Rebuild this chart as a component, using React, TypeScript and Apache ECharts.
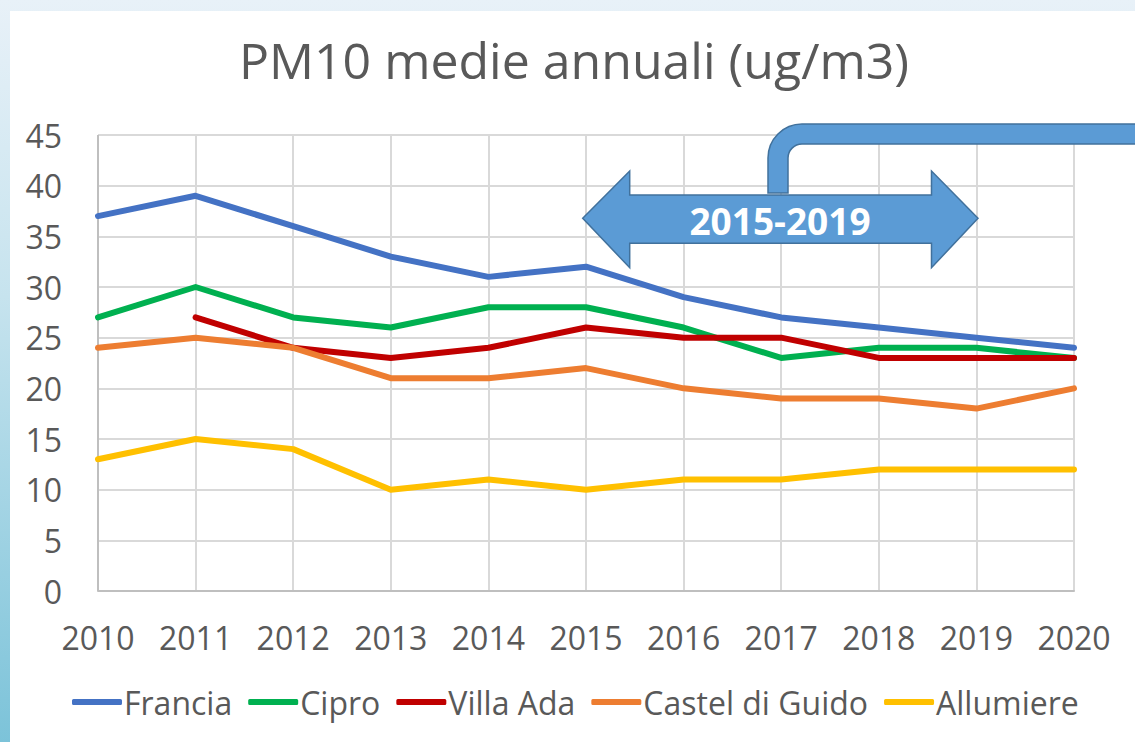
import React, { useEffect, useRef } from "react";
import * as echarts from "echarts";

const years = ["2010", "2011", "2012", "2013", "2014", "2015", "2016", "2017", "2018", "2019", "2020"];
const francia = [37, 39, 36, 33, 31, 32, 29, 27, 26, 25, 24];
const cipro = [27, 30, 27, 26, 28, 28, 26, 23, 24, 24, 23];
const villaAda = [null, 27, 24, 23, 24, 26, 25, 25, 23, 23, 23];
const castelDiGuido = [24, 25, 24, 21, 21, 22, 20, 19, 19, 18, 20];
const allumiere = [13, 15, 14, 10, 11, 10, 11, 11, 12, 12, 12];

const seriesNames = ["Francia", "Cipro", "Villa Ada", "Castel di Guido", "Allumiere"];
const seriesData = [francia, cipro, villaAda, castelDiGuido, allumiere];
const seriesColors = ["#4472C4", "#00B050", "#C00000", "#ED7D31", "#FFC000"];

const titleText = "PM10 medie annuali (ug/m3)";
const arrowLabel = "2015-2019";

const FONT = "'Open Sans', 'Noto Sans', sans-serif";

const doubleArrowD =
  "M582.7,218.3 L629.7,171 L629.7,195 L931.5,195 L931.5,171 L978,218.3 L931.5,267.7 L931.5,243.3 L629.7,243.3 L629.7,267.7 Z";
const connectorD =
  "M768,193 L768,158 A34,34 0 0 1 802,124 L1140,124 L1140,144 L802,144 A14,14 0 0 0 788,158 L788,193 Z";

let registered = false;
function registerShapes() {
  if (registered) return;
  echarts.graphic.registerShape("dblArrow", echarts.graphic.extendPath(doubleArrowD, {}));
  echarts.graphic.registerShape("connector", echarts.graphic.extendPath(connectorD, {}));
  registered = true;
}

export default function App() {
  const ref = useRef<HTMLDivElement>(null);

  useEffect(() => {
    document.body.style.margin = "0";
    registerShapes();
    const chart = echarts.init(ref.current!, null, { renderer: "svg" });
    chart.setOption({
      animation: false,
      title: {
        text: titleText,
        left: 569,
        textAlign: "center",
        top: 30,
        textStyle: { fontFamily: FONT, fontSize: 50, fontWeight: "normal", color: "#595959" },
      },
      legend: {
        data: seriesNames,
        top: 686,
        left: 72,
        padding: 0,
        icon: "roundRect",
        itemWidth: 50,
        itemHeight: 6,
        itemGap: 16,
        textStyle: { fontFamily: FONT, fontSize: 32, color: "#595959", padding: [0, 0, 0, -3] },
      },
      grid: { left: 98, right: 61, top: 135, bottom: 151, containLabel: false },
      xAxis: {
        type: "category",
        data: years,
        boundaryGap: false,
        axisLine: { show: true, lineStyle: { color: "#bfbfbf", width: 2 } },
        axisTick: { show: false },
        splitLine: { show: true, lineStyle: { color: "#d9d9d9", width: 2 } },
        axisLabel: { fontFamily: FONT, fontSize: 32, color: "#595959", margin: 30 },
      },
      yAxis: {
        type: "value",
        min: 0,
        max: 45,
        interval: 5,
        axisLine: { show: false },
        axisTick: { show: false },
        splitLine: { show: true, lineStyle: { color: "#d9d9d9", width: 2 } },
        axisLabel: { fontFamily: FONT, fontSize: 32, color: "#595959", margin: 36 },
      },
      series: seriesNames.map((name, i) => ({
        name,
        type: "line",
        data: seriesData[i],
        symbol: "none",
        connectNulls: false,
        lineStyle: { color: seriesColors[i], width: 6, cap: "round", join: "round" },
        itemStyle: { color: seriesColors[i] },
      })),
      graphic: [
        {
          type: "line",
          shape: { x1: 98, y1: 135, x2: 98, y2: 591 },
          style: { stroke: "#bfbfbf", lineWidth: 2 },
          z: 1,
        },
        {
          type: "connector",
          x: 0,
          y: 0,
          style: { fill: "#5B9BD5", stroke: "#41719C", lineWidth: 1.5 },
          z: 10,
        },
        {
          type: "dblArrow",
          x: 0,
          y: 0,
          style: { fill: "#5B9BD5", stroke: "#41719C", lineWidth: 1.5 },
          z: 11,
        },
        {
          type: "text",
          x: 780,
          y: 220,
          style: {
            text: arrowLabel,
            fill: "#ffffff",
            font: `bold 37px ${FONT}`,
            textAlign: "center",
            textVerticalAlign: "middle",
          },
          z: 12,
        },
      ],
    });
    return () => chart.dispose();
  }, []);

  return (
    <div
      style={{
        position: "absolute",
        left: 0,
        top: 0,
        width: 1135,
        height: 742,
        overflow: "hidden",
        background: "linear-gradient(to bottom, #e8f1f8 0%, #c6e3ee 40%, #7cc3d9 100%)",
      }}
    >
      <div style={{ position: "absolute", left: 10, top: 11, right: 0, bottom: 0, background: "#ffffff" }} />
      <div ref={ref} style={{ position: "absolute", left: 0, top: 0, width: 1135, height: 742 }} />
    </div>
  );
}
